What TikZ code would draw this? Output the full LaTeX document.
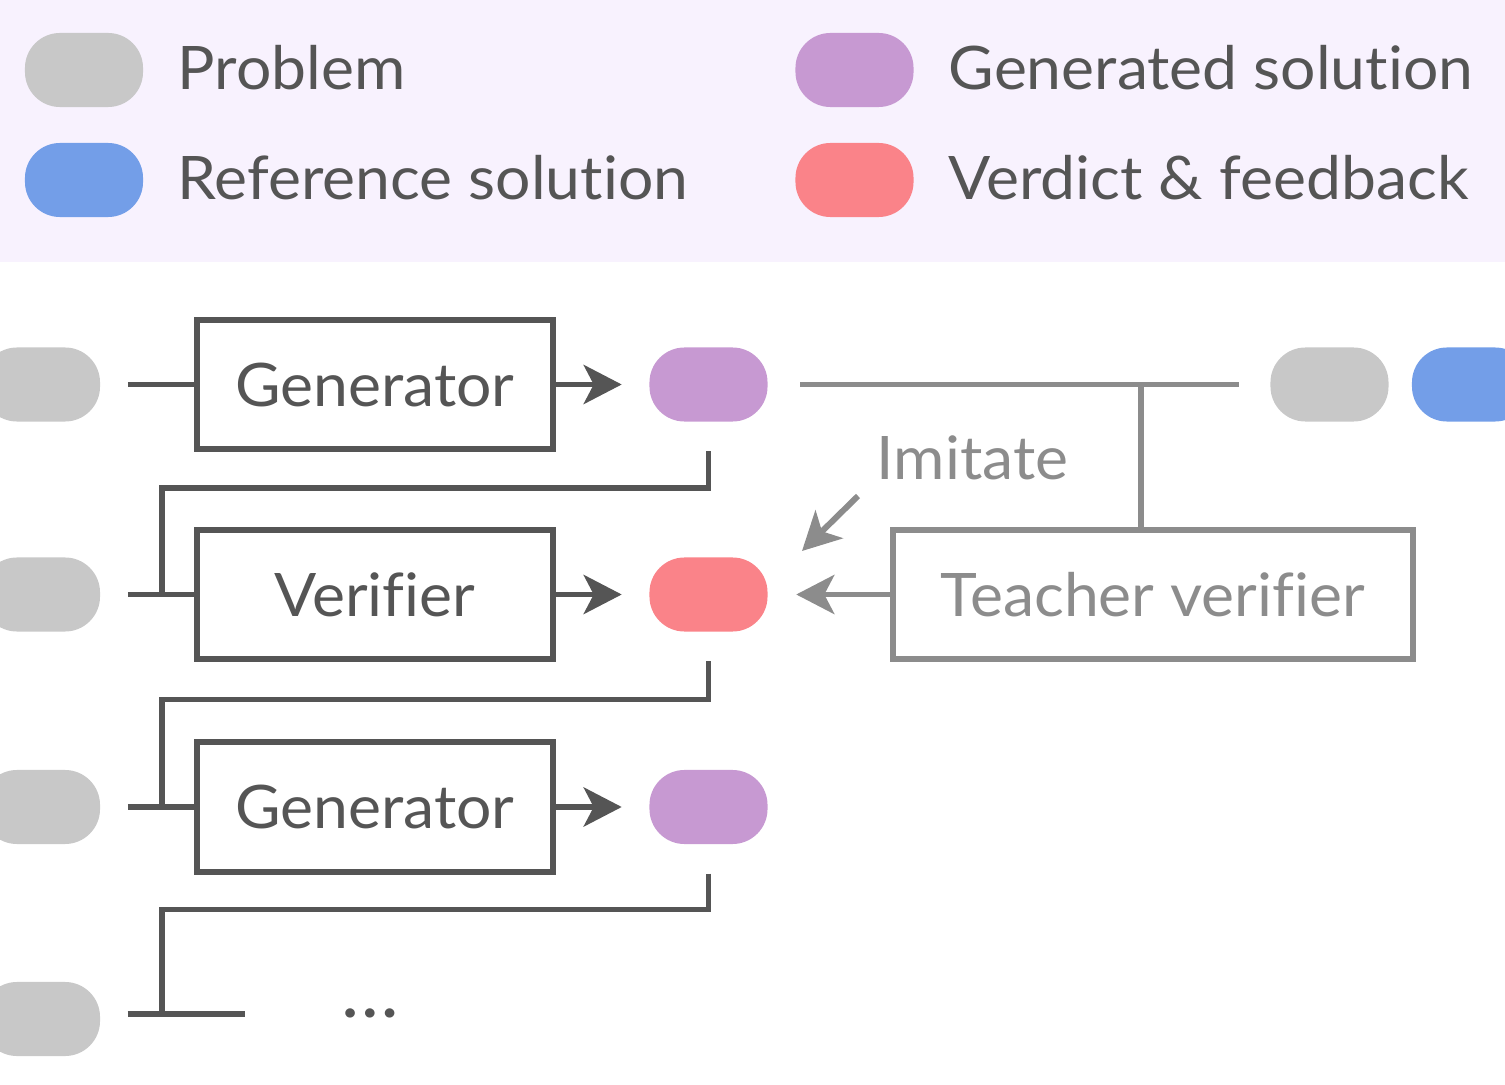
\documentclass[tikz,border=0pt]{standalone}
\usepackage{fontspec}
\setmainfont{Lato}[Ligatures=NoCommon, FakeStretch=1.04]
\usetikzlibrary{arrows.meta,calc}
\definecolor{legbg}{HTML}{F8F2FE}
\definecolor{pgray}{HTML}{C8C8C8}
\definecolor{pblue}{HTML}{739EE8}
\definecolor{ppurple}{HTML}{C799D2}
\definecolor{pred}{HTML}{FA8389}
\definecolor{dk}{HTML}{555555}
\definecolor{lt}{HTML}{8C8C8C}
\newcommand{\bigfont}{\fontsize{17.07pt}{20pt}\selectfont}
\begin{document}
\begin{tikzpicture}[x=0.01cm,y=-0.01cm,
  pill/.style={rounded corners=0.35cm, minimum width=1.18cm, minimum height=0.74cm, inner sep=0pt},
  legtext/.style={anchor=base west, text=dk, font=\bigfont, inner sep=0pt},
  box/.style={draw=dk, line width=1.7pt, minimum width=3.55cm, minimum height=1.29cm, text=dk, font=\bigfont, text height=0.43cm, text depth=0pt, inner sep=0pt},
  tbox/.style={box, draw=lt, text=lt, minimum width=5.2cm},
  dline/.style={draw=dk, line width=1.7pt},
  lline/.style={draw=lt, line width=1.7pt},
  tip/.style={-{Stealth[length=0.38cm,width=0.39cm,inset=0.1cm]}},
]
\useasboundingbox (0,0) rectangle (1505,1085);
% legend
\fill[legbg] (0,0) rectangle (1505,262);
\node[pill, fill=pgray] (lg1) at (84,70) {};
\node[legtext] (lt1) at (177,90) {Problem};
\node[pill, fill=pblue] (lg2) at (84,180) {};
\node[legtext] (lt2) at (177,200) {Reference solution};
\node[pill, fill=ppurple] (lg3) at (854.5,70) {};
\node[legtext] (lt3) at (948,90) {Generated solution};
\node[pill, fill=pred] (lg4) at (854.5,180) {};
\node[legtext] (lt4) at (948,200) {Verdict \& feedback};

% row 1
\node[pill, fill=pgray] (q1) at (41,384.5) {};
\node[box] (g1) at (375,384.5) {Generator};
\node[pill, fill=ppurple] (s1) at (708.5,384.5) {};
\draw[dline, shorten <=0.27cm] (q1.east) -- (g1.west);
\draw[dline, tip, shorten >=0.27cm] (g1.east) -- (s1.west);

% teacher side
\node[pill, fill=pgray] (qr) at (1329.5,384.5) {};
\node[pill, fill=pblue] (rr) at (1471,384.5) {};
\draw[lline, shorten <=0.32cm, shorten >=0.31cm] (s1.east) -- (qr.west);
\coordinate (j) at (1141,384.5);
\node[tbox] (tv) at (1153,594.5) {Teacher verifier};
\draw[lline] (j) -- (j |- tv.north);

% row 2
\node[pill, fill=pgray] (q2) at (41,594.5) {};
\node[box] (v2) at (375,594.5) {Verifier};
\node[pill, fill=pred] (s2) at (708.5,594.5) {};
\draw[dline, shorten <=0.27cm] (q2.east) -- (v2.west);
\draw[dline, tip, shorten >=0.27cm] (v2.east) -- (s2.west);
\coordinate (k1) at (162,488);
\draw[dline] ($(s1.south)+(0,29)$) |- (k1) -- (k1 |- q2.east);

\draw[lline, tip, shorten >=0.28cm] (tv.west) -- (s2.east);
\coordinate (ia) at (858,496);
\coordinate (ib) at (802,551);
\draw[lline, tip] (ia) -- (ib);
\node[anchor=base west, text=lt, font=\bigfont, inner sep=0pt] (im) at (876,480) {Imitate};

% row 3
\node[pill, fill=pgray] (q3) at (41,807) {};
\node[box] (g3) at (375,807) {Generator};
\node[pill, fill=ppurple] (s3) at (708.5,807) {};
\draw[dline, shorten <=0.27cm] (q3.east) -- (g3.west);
\draw[dline, tip, shorten >=0.27cm] (g3.east) -- (s3.west);
\coordinate (k2) at (162,699.5);
\draw[dline] ($(s2.south)+(0,29)$) |- (k2) -- (k2 |- q3.east);

% row 4
\node[pill, fill=pgray] (q4) at (41,1019) {};
\coordinate (e4) at (245,1014);
\draw[dline] ($(q4.east)+(27,-5)$) -- (e4);
\coordinate (k3) at (162,909.5);
\draw[dline] ($(s3.south)+(0,29)$) |- (k3) -- (k3 |- e4);
\node[anchor=base, text=dk, font=\fontsize{21pt}{24pt}\selectfont, inner sep=0pt] (dots) at (370,1017) {…};
\end{tikzpicture}
\end{document}
